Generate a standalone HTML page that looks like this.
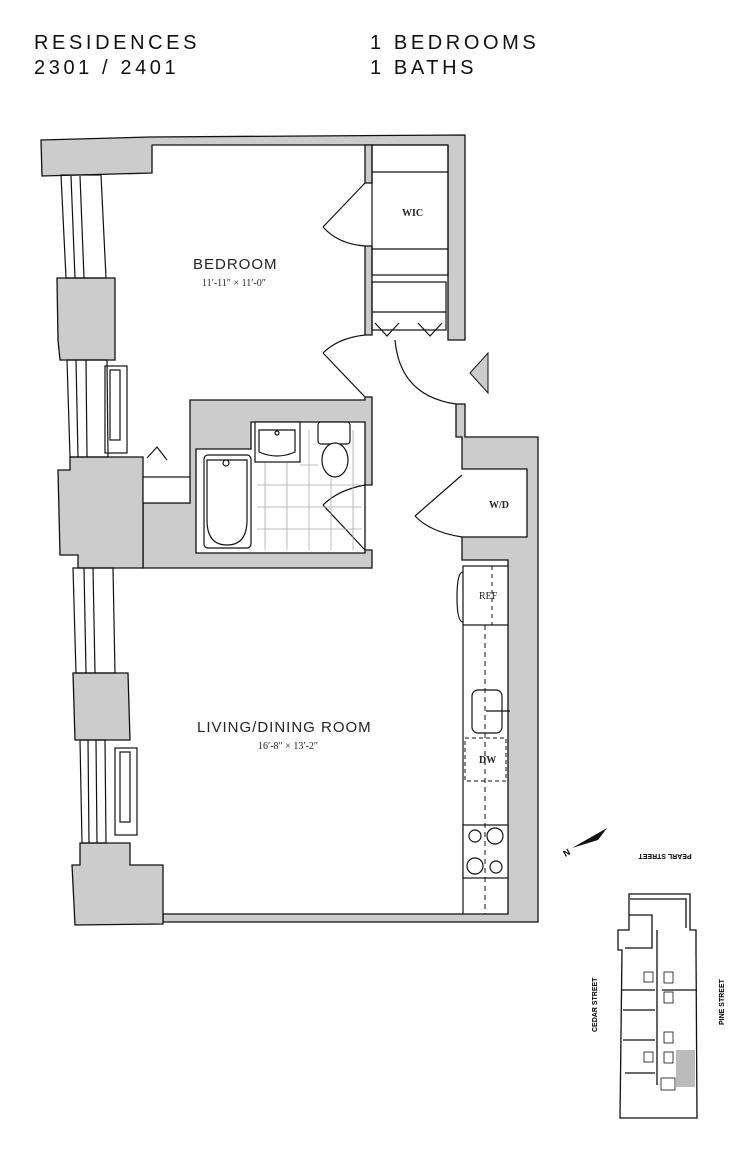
<!DOCTYPE html>
<html><head><meta charset="utf-8"><style>
html,body{margin:0;padding:0;background:#fff;width:745px;height:1152px;overflow:hidden}
svg{display:block}
.t{font-family:"Liberation Sans",sans-serif;font-size:20px;letter-spacing:3.6px;fill:#111}
.r{font-family:"Liberation Sans",sans-serif;font-size:15px;letter-spacing:1px;fill:#222}
.s{font-family:"Liberation Serif",serif;font-size:10px;fill:#222}
</style></head><body>
<svg width="745" height="1152" viewBox="0 0 745 1152" xmlns="http://www.w3.org/2000/svg">
<text class="t" x="34" y="49">RESIDENCES</text>
<text class="t" x="34" y="74">2301 / 2401</text>
<text class="t" x="370" y="49">1 BEDROOMS</text>
<text class="t" x="370" y="74">1 BATHS</text>

<g stroke="#111" stroke-width="1.3" fill="#ccc">
<polygon points="41,140 150,137 465,135 465,340 448,340 448,145 152,145 152,173 42,176"/>
<polygon points="365,145 372,145 372,183 365,183"/>
<polygon points="365,246 372,246 372,335 365,335"/>
<polygon points="456,404 465,404 465,437 538,437 538,922 163,922 163,914 508,914 508,560 462,560 462,537 527,537 527,469 462,469 462,437 456,437"/>
<path fill-rule="evenodd" d="M190,400 H365 V397 H372 V485 H365 V550 H372 V568 H143 V503 H190 Z M196,449 H251 V422 H365 V553 H196 Z"/>
<polygon points="57,278 115,278 115,360 60,360 58,340"/>
<polygon points="70,457 143,457 143,568 78,568 78,555 60,555 58,470 70,470"/>
<polygon points="73,673 128,673 130,740 75,740"/>
<polygon points="80,843 130,843 130,865 163,865 163,924 75,925 72,865 80,865"/>
</g>
<g fill="none" stroke="#111" stroke-width="1.2">
<rect x="143" y="477" width="47" height="26" fill="#fff"/>
<polyline points="147,458 157,447 167,460"/>
<polygon points="61,175 101,175 106,278 66,278"/>
<line x1="71" y1="176" x2="75" y2="278"/><line x1="80" y1="176" x2="84" y2="278"/>
<polygon points="67,360 107,360 108,457 70,457"/>
<line x1="76" y1="360" x2="78" y2="457"/><line x1="86" y1="360" x2="87" y2="457"/>
<rect x="105" y="366" width="22" height="87"/><rect x="110" y="370" width="10" height="70"/>
<polygon points="73,568 113,568 115,673 76,673"/>
<line x1="84" y1="568" x2="86" y2="673"/><line x1="93" y1="568" x2="95" y2="673"/>
<polygon points="80,740 105,740 106,843 82,843"/>
<line x1="88" y1="740" x2="89" y2="843"/><line x1="96" y1="740" x2="97" y2="843"/>
<rect x="115" y="748" width="22" height="87"/><rect x="120" y="752" width="10" height="70"/>
<rect x="372" y="145" width="76" height="130"/>
<line x1="372" y1="172" x2="448" y2="172"/><line x1="372" y1="249" x2="448" y2="249"/>
<rect x="372" y="282" width="74" height="48"/>
<line x1="372" y1="312" x2="446" y2="312"/>
<polyline points="375,323 387,336 399,323"/><polyline points="418,323 430,336 442,323"/>
<polyline points="365,183 323,227"/><path d="M323,227 Q338,244 365,246"/>
<path d="M365,335 Q338,338 323,353"/><line x1="323" y1="353" x2="365" y2="397"/>
<path d="M395,340 Q400,396 456,404"/>
<path d="M365,485 Q338,490 323,505"/><line x1="323" y1="505" x2="365" y2="550"/>
<line x1="462" y1="475" x2="415" y2="516"/><path d="M415,516 Q430,532 462,537"/>
</g>
<g stroke="#aaa" stroke-width="0.8">
<line x1="257" y1="485" x2="362" y2="485"/><line x1="257" y1="507" x2="362" y2="507"/><line x1="257" y1="529" x2="362" y2="529"/><line x1="300" y1="465" x2="318" y2="465"/>
<line x1="265" y1="462" x2="265" y2="550"/><line x1="287" y1="462" x2="287" y2="550"/><line x1="309" y1="430" x2="309" y2="550"/><line x1="331" y1="478" x2="331" y2="550"/><line x1="353" y1="430" x2="353" y2="550"/>
</g>
<g fill="#fff" stroke="#111" stroke-width="1.2">
<rect x="204" y="455" width="47" height="93" rx="4"/>
<path d="M207,460 h40 v60 q0,25 -20,25 q-20,0 -20,-25 z"/>
<circle cx="226" cy="463" r="3"/>
<rect x="255" y="422" width="45" height="40"/>
<path d="M259,430 h36 v22 q-18,8 -36,0 z"/>
<circle cx="277" cy="433" r="2"/>
<rect x="318" y="422" width="32" height="22" rx="3"/>
<ellipse cx="335" cy="460" rx="13" ry="17"/>
</g>
<polygon points="470,373 488,353 488,393" fill="#ccc" stroke="#111"/>
<g fill="#fff" stroke="#111" stroke-width="1.2">
<rect x="463" y="566" width="45" height="59"/>
<line x1="463" y1="625" x2="463" y2="914"/>
<path d="M463,572 q-6,0 -6,25 q0,25 6,25" fill="none"/>
<rect x="472" y="690" width="30" height="43" rx="6"/>
<rect x="463" y="825" width="45" height="53"/>
<circle cx="475" cy="836" r="6"/><circle cx="495" cy="836" r="8"/>
<circle cx="475" cy="866" r="8"/><circle cx="496" cy="867" r="6"/>
<line x1="486" y1="711" x2="510" y2="711"/>
</g>
<line x1="492" y1="566" x2="492" y2="625" stroke="#111" stroke-dasharray="4,4"/>
<line x1="485" y1="625" x2="485" y2="914" stroke="#111" stroke-dasharray="5,4"/>
<rect x="465" y="738" width="41" height="43" fill="none" stroke="#111" stroke-dasharray="4,3"/>
<text class="s" x="402" y="216" font-weight="bold">WIC</text>
<text class="s" x="489" y="508" font-weight="bold">W/D</text>
<text class="s" x="479" y="599">REF</text>
<text class="s" x="479" y="763" font-weight="bold">DW</text>
<text class="r" x="193" y="269">BEDROOM</text>
<text class="s" x="202" y="286" font-size="9">11′-11″ × 11′-0″</text>
<text class="r" x="197" y="732">LIVING/DINING ROOM</text>
<text class="s" x="258" y="749" font-size="9">16′-8″ × 13′-2″</text>
<polygon points="572,848 607,828 598,840" fill="#111"/>
<text x="563" y="856" font-family="Liberation Sans" font-size="9" font-weight="bold" transform="rotate(-30 566 852)">N</text>
<text x="665" y="860" font-family="Liberation Sans" font-size="7" font-weight="bold" text-anchor="middle" transform="rotate(180 665 857)">PEARL STREET</text>
<text x="0" y="0" font-family="Liberation Sans" font-size="7" font-weight="bold" transform="translate(597 1032) rotate(-90)">CEDAR STREET</text>
<text x="0" y="0" font-family="Liberation Sans" font-size="7" font-weight="bold" transform="translate(724 1025) rotate(-90)">PINE STREET</text>
<g fill="none" stroke="#111" stroke-width="1.3">
<polygon points="629,894 690,894 690,930 696,930 696,950 697,1118 620,1118 622,950 618,950 618,930 629,930"/>
<polyline points="630,899 686,899 686,928"/>
<polyline points="629,915 652,915 652,948 625,948"/>
<line x1="657" y1="930" x2="657" y2="1085"/>
<line x1="622" y1="990" x2="655" y2="990"/>
<line x1="623" y1="1010" x2="655" y2="1010"/>
<line x1="623" y1="1040" x2="655" y2="1040"/>
<line x1="625" y1="1073" x2="655" y2="1073"/>
<line x1="662" y1="990" x2="697" y2="990"/>
</g>
<rect x="676" y="1050" width="19" height="37" fill="#bbb"/>
<g fill="#fff" stroke="#111" stroke-width="0.8">
<rect x="664" y="972" width="9" height="11"/><rect x="664" y="992" width="9" height="11"/><rect x="664" y="1032" width="9" height="11"/><rect x="664" y="1052" width="9" height="11"/>
<rect x="644" y="972" width="9" height="10"/><rect x="644" y="1052" width="9" height="10"/>
<rect x="661" y="1078" width="14" height="12"/>
</g>
</svg>
</body></html>
